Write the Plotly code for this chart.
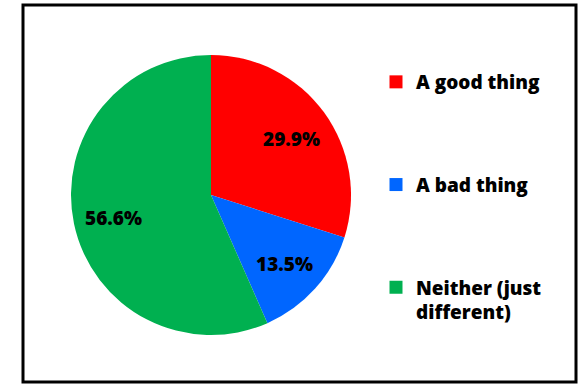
import numpy as np
import plotly.graph_objects as go

labels = ["A good thing", "A bad thing", "Neither (just<br>different)"]
values = [29.9, 13.5, 56.6]
colors = ["#FF0000", "#0066FF", "#00B050"]

FONT = "Open Sans"
W, H = 581, 385
CX, CY, R = 211, 195, 140  # pie centre / radius in px

fig = go.Figure()
fig.add_trace(go.Pie(
    labels=labels, values=values, sort=False, direction="clockwise", rotation=0,
    marker=dict(colors=colors, line=dict(width=0)),
    textinfo="none",
    showlegend=False, hoverinfo="skip",
    domain=dict(x=[(CX - R) / W, (CX + R) / W], y=[(H - CY - R) / H, (H - CY + R) / H]),
))
for i, (lab, col) in enumerate(zip(labels, colors)):
    fig.add_trace(go.Scatter(
        x=[None], y=[None], mode="markers", name=lab,
        marker=dict(symbol="square", size=13, color=col),
        legendgroup=str(i), showlegend=True,
    ))

# data labels placed along each slice's mid-angle
vals = np.array(values)
frac = vals / vals.sum()
mid = (np.cumsum(frac) - frac / 2) * 2 * np.pi
annotations = []
for v, a in zip(vals, mid):
    px = CX + 0.71 * R * np.sin(a)
    py = CY - 0.71 * R * np.cos(a) + 3
    annotations.append(dict(
        x=px / W, y=(H - py) / H, xref="paper", yref="paper",
        text=f"{v:.1f}%", showarrow=False, xanchor="center", yanchor="middle",
        font=dict(family=FONT, size=19, color="black", weight=800),
    ))

fig.update_layout(
    width=W, height=H,
    margin=dict(l=0, r=0, t=0, b=0),
    paper_bgcolor="white", plot_bgcolor="white",
    xaxis=dict(visible=False), yaxis=dict(visible=False),
    legend=dict(
        x=376 / W, xanchor="left", y=1 - 63 / H, yanchor="top",
        font=dict(family=FONT, size=19, color="black", weight=800),
        traceorder="grouped", tracegroupgap=75, valign="top",
        bgcolor="rgba(0,0,0,0)",
    ),
    annotations=annotations,
    shapes=[dict(type="rect", xref="paper", yref="paper",
                 x0=23 / W, x1=576 / W, y0=1 - 382 / H, y1=1 - 5 / H,
                 line=dict(color="black", width=3))],
)
fig.write_html("out.html")
